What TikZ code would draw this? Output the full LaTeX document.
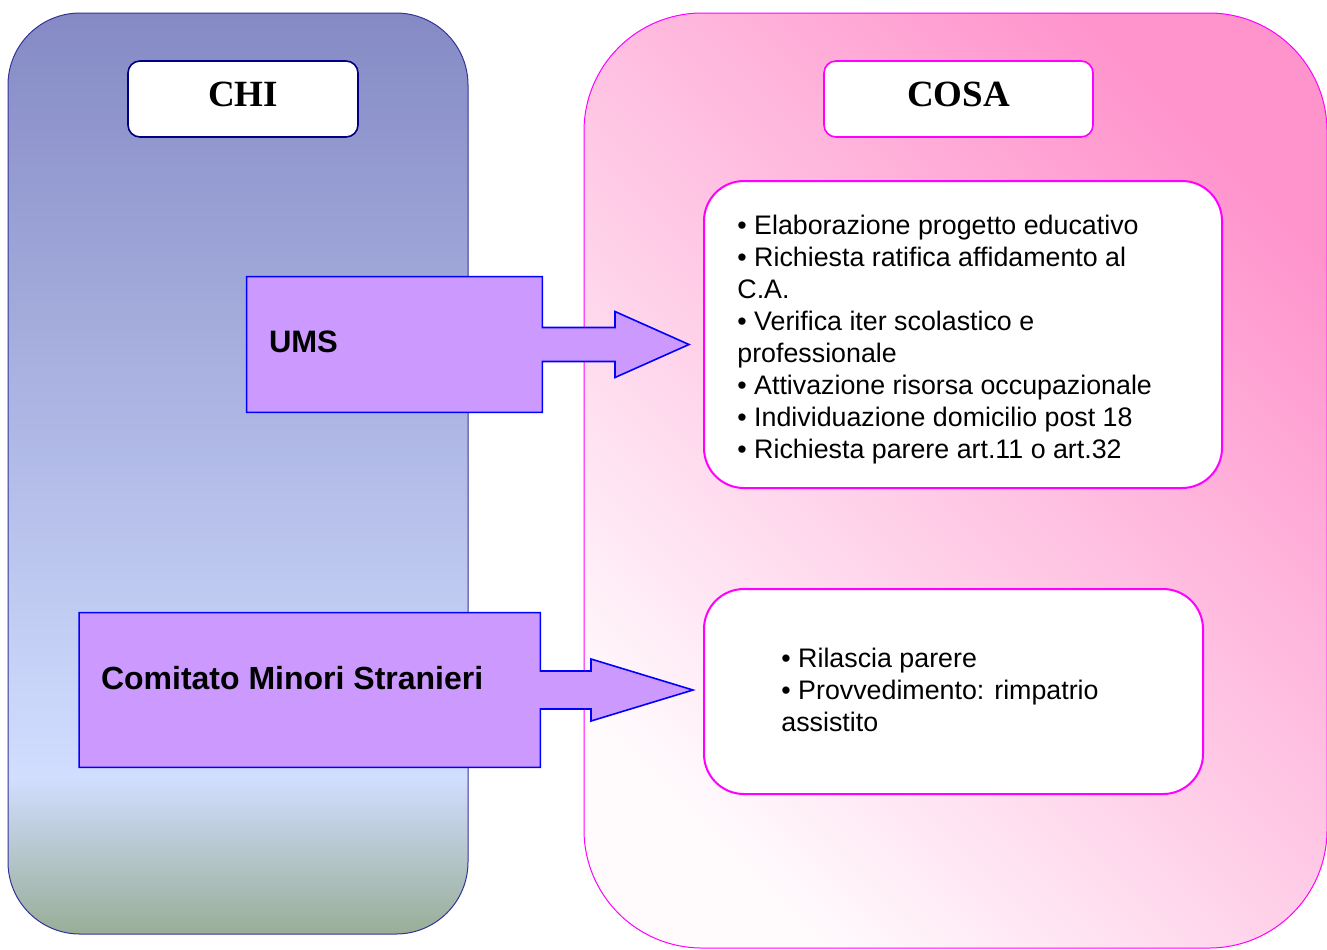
\documentclass[tikz,border=0pt]{standalone}
\usepackage{fontspec}
\setmainfont{Liberation Sans}
\newfontfamily\headfont{Liberation Serif}
\usetikzlibrary{positioning, calc}
\definecolor{chitop}{rgb}{0.52, 0.54, 0.77}
\definecolor{chilight}{rgb}{0.82, 0.87, 1.0}
\definecolor{chibottom}{rgb}{0.6, 0.68, 0.59}
\definecolor{chiline}{rgb}{0.2, 0.2, 0.6}
\definecolor{navy}{rgb}{0, 0, 0.5}
\definecolor{cosalight}{rgb}{1.0, 0.98, 0.99}
\definecolor{cosadark}{rgb}{1.0, 0.58, 0.8}
\definecolor{cosaline}{rgb}{1, 0, 1}
\definecolor{lilac}{rgb}{0.8, 0.6, 1.0}
\pgfdeclareverticalshading{chipanel}{100bp}{color(0bp)=(chibottom); color(25bp)=(chibottom); color(33.5bp)=(chilight); color(75bp)=(chitop); color(100bp)=(chitop)}
\tikzstyle{headbox} = [rectangle,rounded corners=6pt,fill=white,line width=0.8pt,minimum width=115pt,minimum height=38pt,text height=12.2pt,text depth=4.5pt,font=\headfont\fontsize{18.5}{20}\selectfont\bfseries]
\tikzstyle{todobox} = [rectangle,rounded corners=20pt,fill=white,draw=cosaline,line width=1pt]
\tikzstyle{todotext} = [align=left,inner sep=0pt,font=\fontsize{13.4}{16}\selectfont]
\tikzstyle{whobox} = [rectangle,inner sep=0pt]
\tikzstyle{whoarrow} = [fill=lilac,draw=blue,line width=0.8pt]
\tikzstyle{wholabel} = [inner sep=0pt,font=\fontsize{15.5}{18}\selectfont\bfseries]

\begin{document}
\begin{tikzpicture}[x=0.5pt, y=-0.5pt]
		\useasboundingbox (0,0) rectangle (1327,949);
		% the two columns
		\shade[draw=chiline,line width=0.5pt,shading=chipanel,rounded corners=36pt] (8,13) rectangle (468,934);
		\shade[draw=cosaline,line width=0.5pt,bottom color=cosalight,top color=cosadark,shading angle=-45,rounded corners=59pt] (584,13) rectangle (1327,948);
		
		\node [headbox,draw=navy](chi) at (243,99){CHI};
		\node [headbox,draw=cosaline,minimum width=134.5pt](cosa) at (958.5,99){COSA};
		
		\node [todobox,minimum width=259pt,minimum height=153.5pt](todoums) at (963,334.5){};
		\node [todobox,minimum width=249.5pt,minimum height=102.5pt](todocms) at (953.5,691.5){};
		\node [todotext,anchor=north west](listums) at ($(todoums.north west)+(34,35)$){%
			• Elaborazione progetto educativo\\
			• Richiesta ratifica affidamento al\\
			C.A.\\
			• Verifica iter scolastico e\\
			professionale\\
			• Attivazione risorsa occupazionale\\
			• Individuazione domicilio post 18\\
			• Richiesta parere art.11 o art.32};
		\node [todotext,anchor=north west](listcms) at ($(todocms.north west)+(78,60)$){%
			• Rilascia parere\\
			• Provvedimento: rimpatrio\\
			assistito};
		
		% block arrows
		\node [whobox,minimum width=147.5pt,minimum height=67.5pt](ums) at (394.5,344.5){};
		\node [whobox,minimum width=230.25pt,minimum height=77pt](cms) at (309.75,690){};
		\coordinate (umstip) at ($(todoums.west |- ums.east)+(-14,0)$);
		\coordinate (cmstip) at ($(todocms.west |- cms.east)+(-10,0)$);
		
		\filldraw[whoarrow](ums.north west)--(ums.north east)--($(ums.east)+(0,-17)$)--($(umstip)+(-74,-17)$)--($(umstip)+(-74,-33)$)--(umstip)--($(umstip)+(-74,33)$)--($(umstip)+(-74,17)$)--($(ums.east)+(0,17)$)--(ums.south east)--(ums.south west)--cycle;
		\filldraw[whoarrow](cms.north west)--(cms.north east)--($(cms.east)+(0,-19)$)--($(cmstip)+(-102,-19)$)--($(cmstip)+(-102,-31)$)--(cmstip)--($(cmstip)+(-102,31)$)--($(cmstip)+(-102,19)$)--($(cms.east)+(0,19)$)--(cms.south east)--(cms.south west)--cycle;
		
		\node [wholabel,anchor=west](umslabel) at ($(ums.west)+(22,-3)$){UMS};
		\node [wholabel,anchor=west,font=\fontsize{16}{18}\selectfont\bfseries](cmslabel) at ($(cms.west)+(21.5,-12)$){Comitato Minori Stranieri};
		\end{tikzpicture}
\end{document}
